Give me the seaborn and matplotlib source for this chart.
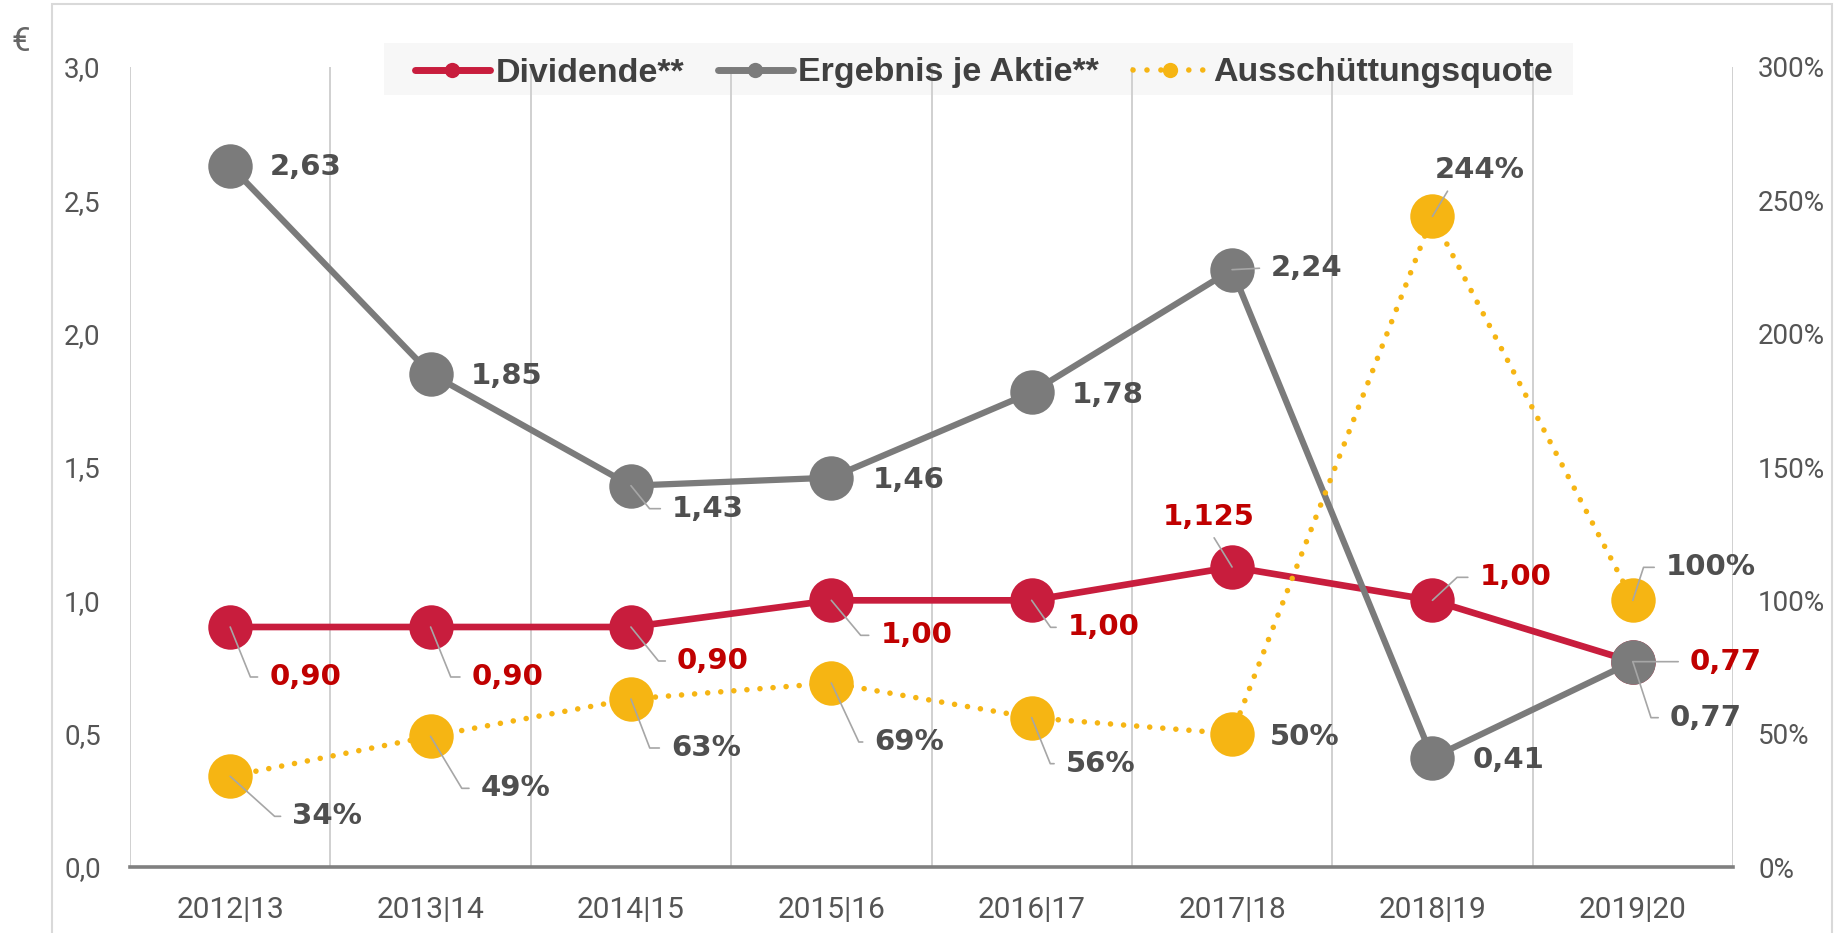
import numpy as np
import pandas as pd
import matplotlib
matplotlib.use("Agg")
import matplotlib.pyplot as plt
import seaborn as sns
from matplotlib.lines import Line2D
from matplotlib.patches import Rectangle
from matplotlib import font_manager as fm
from matplotlib.ticker import FixedLocator

# ---------------- data ----------------
categories = ["2012|13", "2013|14", "2014|15", "2015|16", "2016|17", "2017|18", "2018|19", "2019|20"]
dividende = [0.90, 0.90, 0.90, 1.00, 1.00, 1.125, 1.00, 0.77]
ergebnis = [2.63, 1.85, 1.43, 1.46, 1.78, 2.24, 0.41, 0.77]
quote = [34, 49, 63, 69, 56, 50, 244, 100]
left_ticks = [0.0, 0.5, 1.0, 1.5, 2.0, 2.5, 3.0]
right_ticks = [0, 50, 100, 150, 200, 250, 300]
legend_labels = ["Dividende**", "Ergebnis je Aktie**", "Ausschüttungsquote"]
unit_label = "€"

# ---------------- style ----------------
RED = "#C81D3D"
GRAY = "#7B7B7B"
YEL = "#F6B513"
RED_TXT = "#C00000"
DARK_TXT = "#4F4F4F"
TICK_TXT = "#555555"
LEADER = "#A6A6A6"
GRID = "#D0D0D0"

sns.set_theme(style="white")
avail = {f.name for f in fm.fontManager.ttflist}


def pick(*names):
    for n in names:
        if n in avail:
            return n
    return "DejaVu Sans"


TICK_FONT = pick("Roboto", "Liberation Sans")
LEG_FONT = pick("Liberation Sans", "Roboto")
plt.rcParams["font.family"] = [TICK_FONT, "DejaVu Sans"]

W, H = 1843, 933
fig = plt.figure(figsize=(W / 100, H / 100), dpi=100)
fig.patch.set_facecolor("white")
L, R, T, B = 130, 1733, 67, 867
ax = fig.add_axes([L / W, 1 - B / H, (R - L) / W, (B - T) / H])
ax.patch.set_visible(False)

# outer frame and legend background
fig.patches.append(Rectangle((52 / W, -0.05), (1832 - 52) / W, 1 - 4 / H + 0.05,
                             transform=fig.transFigure, facecolor="none",
                             edgecolor="#D9D9D9", lw=1.5, zorder=-2))
fig.patches.append(Rectangle((384 / W, 1 - 95 / H), (1573 - 384) / W, 52 / H,
                             transform=fig.transFigure, facecolor="#F7F7F7",
                             edgecolor="none", zorder=-1))

x = np.arange(len(categories))
df = pd.DataFrame({"pos": x, "Dividende": dividende, "EPS": ergebnis, "Quote": quote})

MS = 32
sns.lineplot(data=df, x="pos", y="Dividende", ax=ax, color=RED, linewidth=4.8,
             marker="o", markersize=MS, markeredgewidth=0, zorder=2)
sns.lineplot(data=df, x="pos", y="EPS", ax=ax, color=GRAY, linewidth=4.5,
             marker="o", markersize=MS, markeredgewidth=0, zorder=2.5)

ax2 = ax.twinx()
ax2.patch.set_visible(False)
sns.lineplot(data=df, x="pos", y="Quote", ax=ax2, color=YEL, linewidth=4.0,
             linestyle=(0, (0.01, 2.35)), dash_capstyle="round",
             marker="o", markersize=MS, markeredgewidth=0, zorder=2)

ax.set_xlim(-0.5, len(categories) - 0.5)
ax.set_ylim(0, 3)
ax2.set_ylim(0, 300)

ax.set_xticks(x)
ax.set_xticklabels(categories)
ax.xaxis.set_minor_locator(FixedLocator(np.arange(-0.5, len(categories), 0.5)))
ax.grid(False)
ax.grid(True, axis="x", which="minor", color=GRID, lw=1.4)
ax2.grid(False)

ax.set_yticks(left_ticks)
ax.set_yticklabels([f"{v:.1f}".replace(".", ",") for v in left_ticks])
ax2.set_yticks(right_ticks)
ax2.set_yticklabels([f"{v}%" for v in right_ticks])

for a in (ax, ax2):
    a.set_xlabel("")
    a.set_ylabel("")
    for s in a.spines.values():
        s.set_visible(False)
ax.spines["bottom"].set_visible(True)
ax.spines["bottom"].set_color("#808080")
ax.spines["bottom"].set_linewidth(2.6)

ax.tick_params(axis="x", which="both", length=0, pad=21, labelsize=21.5, labelcolor=TICK_TXT)
ax.tick_params(axis="y", length=0, pad=21, labelsize=20, labelcolor=TICK_TXT)
ax2.tick_params(axis="y", length=0, pad=18, labelsize=20, labelcolor=TICK_TXT)
for lab in ax2.get_yticklabels():
    lab.set_horizontalalignment("left")

fig.text(21 / W, 1 - 42 / H, unit_label, ha="center", va="center", fontsize=24,
         color="#666666")


# ---------------- data labels ----------------
def fmt_eur(v):
    s = f"{v:.3f}".rstrip("0")
    if len(s.split(".")[1]) < 2:
        s = f"{v:.2f}"
    return s.replace(".", ",")


# layout: (dx px, dy px, mode, angle/relpos)
eps_layout = [(40, -1, None, 0), (40, -2, None, 0), (41, -23, "angle", -51), (41, -2, None, 0),
              (40, -3, None, 0), (39, 2, "straight", 0), (40, -2, None, 0), (37, -56, "angle", -72)]
div_layout = [(39, -50, "angle", -68), (41, -50, "angle", -68), (46, -34, "angle", -51),
              (49, -35, "angle", -50), (36, -27, "angle", -55), (-23, 50, "center", 0.5),
              (47, 23, "angle", 43), (57, 0, "straight", 0)]
quo_layout = [(62, -40, "angle", -42), (50, -52, "angle", -59), (40, -49, "angle", -69),
              (43, -59, "angle", -65), (34, -46, "angle", -68), (38, -3, None, 0),
              (47, 46, "center", 0.2), (33, 33, "angle", 72)]


def label(a, xv, yv, text, color, lay):
    dx, dy, mode, p = lay
    kw = dict(textcoords="offset pixels", fontsize=21, fontweight="bold", color=color,
              family="DejaVu Sans", zorder=6, annotation_clip=False)
    if mode is None:
        a.annotate(text, (xv, yv), xytext=(dx, dy), ha="left", va="center", **kw)
    elif mode == "angle":
        a.annotate(text, (xv, yv), xytext=(dx, dy), ha="left", va="center",
                   arrowprops=dict(arrowstyle="-", color=LEADER, lw=1.2, shrinkA=6, shrinkB=0,
                                   relpos=(0, 0.5),
                                   connectionstyle=f"angle,angleA=0,angleB={p},rad=0"), **kw)
    elif mode == "straight":
        a.annotate(text, (xv, yv), xytext=(dx, dy), ha="left", va="center",
                   arrowprops=dict(arrowstyle="-", color=LEADER, lw=1.2, shrinkA=6, shrinkB=0,
                                   relpos=(0, 0.5), connectionstyle="arc3"), **kw)
    else:
        a.annotate(text, (xv, yv), xytext=(dx, dy), ha="center", va="center",
                   arrowprops=dict(arrowstyle="-", color=LEADER, lw=1.2, shrinkA=3, shrinkB=0,
                                   relpos=(p, 0.05), connectionstyle="arc3"), **kw)


for i in range(len(categories)):
    label(ax, x[i], ergebnis[i], fmt_eur(ergebnis[i]), DARK_TXT, eps_layout[i])
    label(ax, x[i], dividende[i], fmt_eur(dividende[i]), RED_TXT, div_layout[i])
    label(ax2, x[i], quote[i], f"{quote[i]}%", DARK_TXT, quo_layout[i])

# ---------------- legend ----------------
handles = [
    Line2D([], [], color=RED, lw=5, marker="o", markersize=11, markeredgewidth=0),
    Line2D([], [], color=GRAY, lw=5, marker="o", markersize=11, markeredgewidth=0),
    Line2D([], [], color=YEL, lw=4, linestyle=(0, (0.01, 2.5)), dash_capstyle="round",
           marker="o", markersize=11, markeredgewidth=0),
]
leg = fig.legend(handles, legend_labels, loc="center", bbox_to_anchor=(984 / W, 1 - 73 / H),
                 ncol=3, frameon=False, handlelength=2.2, handletextpad=0.16,
                 columnspacing=1.0, borderpad=0.2,
                 prop=fm.FontProperties(family=LEG_FONT, weight="bold", size=24.5))
for t in leg.get_texts():
    t.set_color("#404040")

fig.savefig("out.png", dpi=100, facecolor="white")
